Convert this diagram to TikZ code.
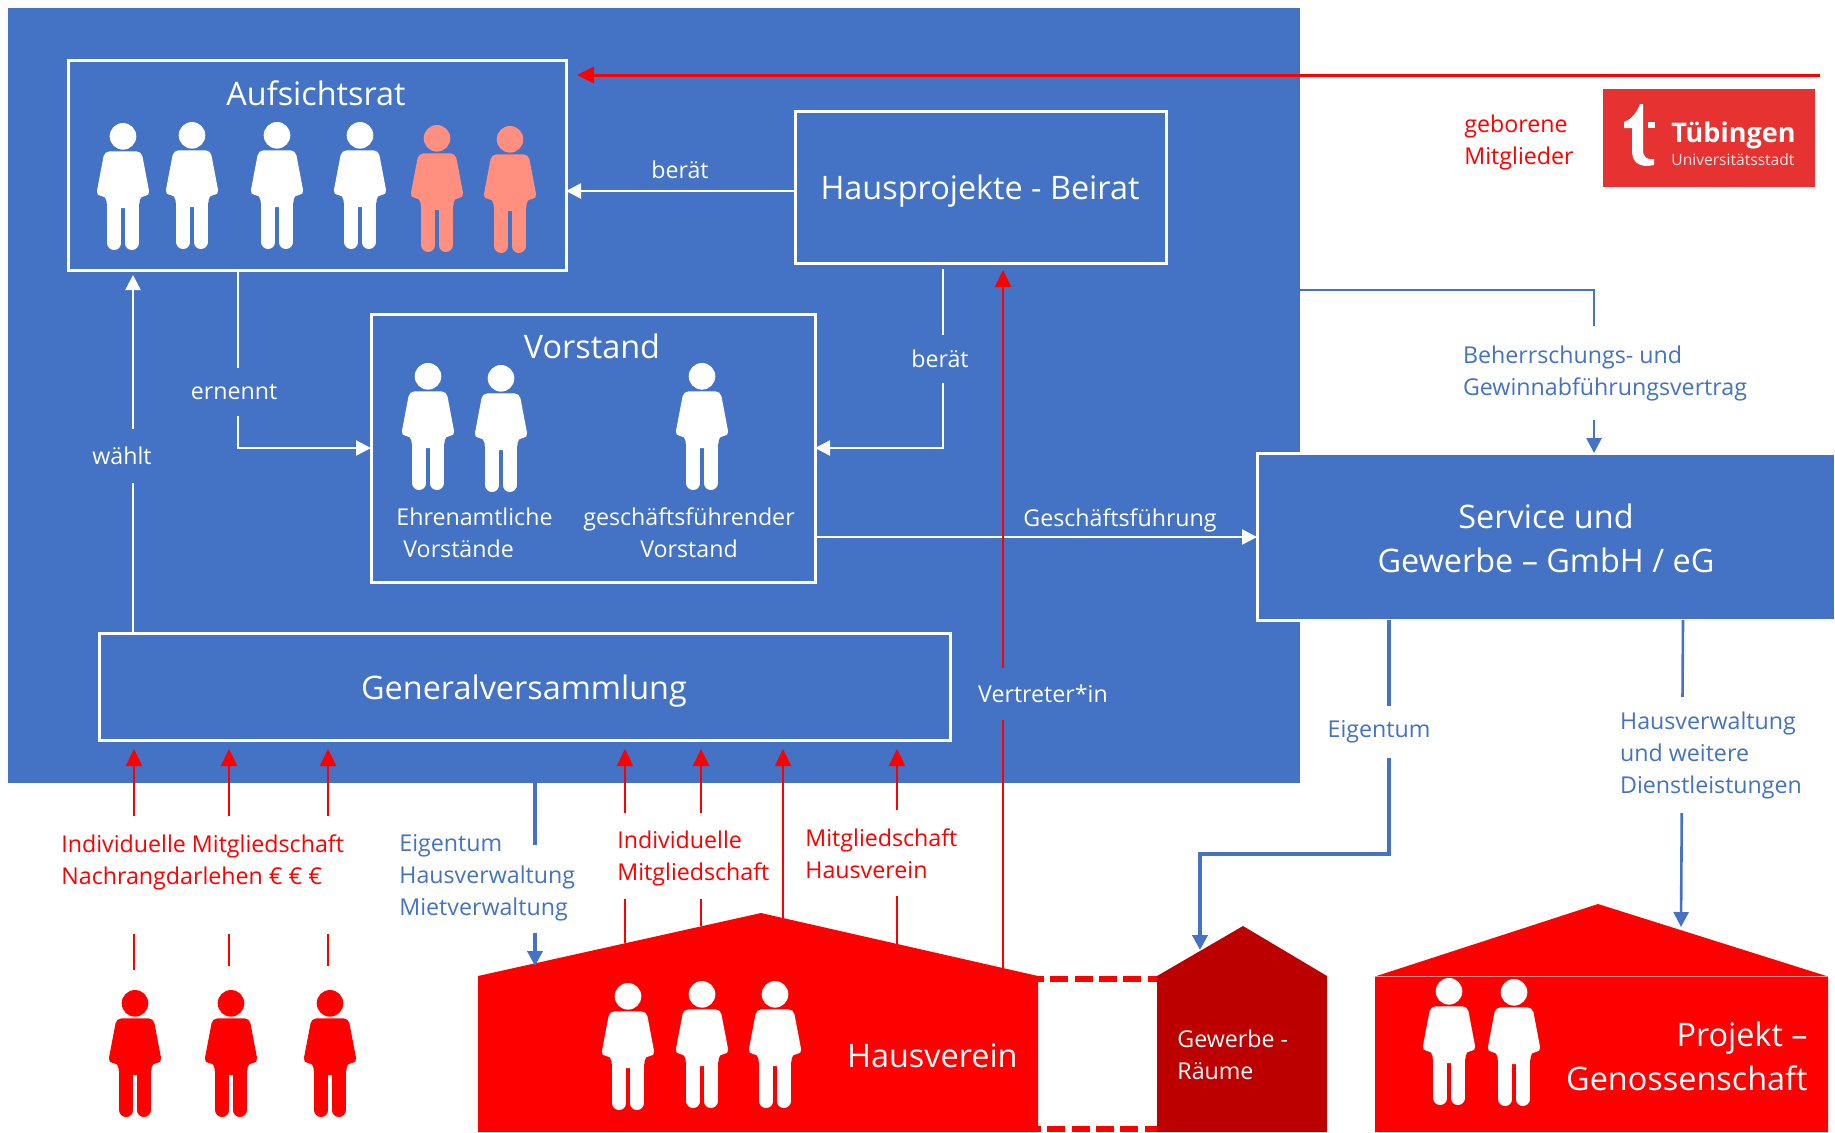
\documentclass[tikz,border=0pt]{standalone}
\usepackage{fontspec}
\setmainfont{Open Sans}
\usetikzlibrary{arrows.meta}
\definecolor{hausblau}{HTML}{4472C4}
\definecolor{hausrot}{HTML}{FF0000}
\definecolor{gewerberot}{HTML}{BC0000}
\definecolor{lachs}{HTML}{FF8F7F}
\definecolor{logorot}{HTML}{E63331}
\tikzset{
  box/.style={draw=white, line width=1.5pt, fill=hausblau, outer sep=0pt, inner sep=0pt},
  titel/.style={text=white, font=\fontsize{16.2}{22}\selectfont, align=center, inner sep=0pt},
  klein/.style={font=\fontsize{11.6}{16}\selectfont, align=left, inner sep=0pt},
  weisspfeil/.style={draw=white, line width=1.2pt, -{Triangle[width=7.5pt,length=7.5pt]}},
  rotlinie/.style={draw=hausrot, line width=1.25pt},
  rotpfeil/.style={rotlinie, -{Triangle[width=8pt,length=8.5pt]}},
  blaudick/.style={draw=hausblau, line width=2pt},
  blaupfeil/.style={draw=hausblau, line width=1.3pt, -{Triangle[width=7.5pt,length=7.5pt]}},
  strichel/.style={hausrot, line width=3pt, dash pattern=on 9pt off 3.15pt},
  pics/person/.style={code={
    \fill (0,13.3) circle[radius=13.3];
    \fill[rounded corners=2.5pt] (0,28.3) -- (18.5,28.3) -- (27,73) -- (16.5,73) -- (16.5,85)
      -- (-16.5,85) -- (-16.5,73) -- (-27,73) -- (-18.5,28.3) -- cycle;
    \draw[line width=7pt, line cap=round] (-8.7,78) -- (-8.7,120);
    \draw[line width=7pt, line cap=round] (8.7,78) -- (8.7,120);
  }}
}
\begin{document}
\begin{tikzpicture}[x=0.5pt, y=-0.5pt]
    \useasboundingbox (0,0) rectangle (1835,1132);

    % Grosse Flaeche und Kaesten
    \node[fill=hausblau, minimum width=646pt, minimum height=387.5pt, inner sep=0pt] (haupt) at (654,395.5) {};
    \node[box, minimum width=249pt, minimum height=105pt] (aufsichtsrat) at (317,165) {};
    \node[box, minimum width=185.5pt, minimum height=76pt] (beirat) at (980.5,187) {};
    \node[box, minimum width=222pt, minimum height=134pt] (vorstand) at (593,448) {};
    \node[box, minimum width=425.5pt, minimum height=53.5pt] (gv) at (524.5,686.5) {};
    \node[box, minimum width=289pt, minimum height=83.5pt] (service) at (1546,536.5) {};

    % Titel
    \node[titel] (tAufsichtsrat) at (316,93) {Aufsichtsrat};
    \node[titel] (tBeirat) at (980,191.5) {Hausprojekte - Beirat};
    \node[titel] (tVorstand) at (592,346) {Vorstand};
    \node[titel] (tGv) at (524,691.5) {Generalversammlung};
    \node[titel] (tService) at (1546,538) {Service und\\Gewerbe – GmbH / eG};
    \node[klein, text=white, anchor=west] (tEhrenamt) at (396,533) {Ehrenamtliche\\\hspace*{3.5pt}Vorstände};
    \node[klein, text=white, align=center] (tGf) at (689,533) {geschäftsführender\\Vorstand};

    % Personen
    \foreach \px/\py in {123/123, 192/122, 277/122, 360/122, 428/363, 501/365, 702/363}
      \pic[color=white] at (\px,\py) {person};
    \pic[color=lachs] at (437,125) {person};
    \pic[color=lachs] at (510,126) {person};

    % Haeuser
    \fill[hausrot] (478,976) -- (761,913) -- (1038,976) -- (1038,1132) -- (478,1132) -- cycle;
    \fill[gewerberot] (1157,976) -- (1243,926) -- (1327,976) -- (1327,1132) -- (1157,1132) -- cycle;
    \fill[hausrot] (1375,976.5) -- (1598,904) -- (1828,976.5) -- (1828,1132) -- (1375,1132) -- cycle;
    \draw[white!55!hausrot, line width=0.35pt] (1375,976.5) -- (1828,976.5);
    \draw[strichel, dash phase=6pt] (1038,979) -- (1157,979);
    \draw[strichel, dash phase=7.5pt] (1038,1129) -- (1157,1129);
    \foreach \px/\py in {628/983, 702/981, 775/981, 1449/978, 1514/979}
      \pic[color=white] at (\px,\py) {person};
    \foreach \px in {135, 231, 330}
      \pic[color=hausrot] at (\px,990) {person};
    \node[titel, anchor=east] (tHausverein) at (1018,1056) {Hausverein};
    \node[klein, text=white, anchor=west] (tGewerbe) at (1177,1055) {Gewerbe -\\Räume};
    \node[titel, anchor=east, align=right] (tProjekt) at (1808,1056) {Projekt –\\Genossenschaft};

    % Logo
    \node[fill=logorot, minimum width=106pt, minimum height=49pt, inner sep=0pt] (logo) at (1709,138) {};
    \fill[white] (1624,122) .. controls (1632,119) and (1637,112) .. (1640,104) -- (1643,104) -- (1643,150)
      .. controls (1643,158) and (1648,160) .. (1654,159) -- (1654,165) -- (1648,166)
      .. controls (1636,166) and (1632,160) .. (1632,150) -- (1632,128) -- (1624,128) -- cycle;
    \fill[white] (1648,122) rectangle (1655,128);
    \node[text=white, font=\fontsize{13.5}{14}\selectfont\bfseries, anchor=west, inner sep=0pt] (tTuebingen) at (1671,135) {Tübingen};
    \node[text=white!88!logorot, font=\fontsize{7.8}{9}\selectfont, anchor=west, inner sep=0pt] (tStadt) at (1671,160) {Universitätsstadt};
    \node[klein, text=hausrot, anchor=west] (tGeboren) at (1464,142) {geborene\\Mitglieder};

    % Weisse Verbindungen
    \coordinate (beratLinks) at (795,191);
    \coordinate (ernenntOben) at (238,270);
    \coordinate (waehltUnten) at (133,633);
    \coordinate (beratRechts) at (943,263);
    \coordinate (gfStart) at (815,537);
    \draw[weisspfeil] (beratLinks) -- (beratLinks -| aufsichtsrat.east);
    \draw[weisspfeil] (ernenntOben) |- (vorstand.west);
    \draw[weisspfeil, shorten >=2.5pt] (waehltUnten) -- (waehltUnten |- aufsichtsrat.south);
    \draw[weisspfeil, shorten <=3pt, shorten >=0pt] (beratRechts) |- (vorstand.east);
    \draw[weisspfeil] (gfStart) -- (gfStart -| service.west);
    \node[klein, text=white] (lBeratLinks) at (680,170) {berät};
    \node[klein, text=white, fill=hausblau, minimum height=24pt, inner sep=0pt] (lErnennt) at (234,392) {ernennt};
    \node[klein, text=white, fill=hausblau, minimum height=27pt, inner sep=0pt] (lWaehlt) at (122,456) {wählt};
    \node[klein, text=white, fill=hausblau, minimum height=24pt, inner sep=1pt] (lBeratRechts) at (940,359) {berät};
    \node[klein, text=white] (lGf) at (1120,520) {Geschäftsführung};

    % Rote Verbindungen
    \coordinate (geboren) at (1820,75);
    \draw[rotpfeil, line width=1.5pt, shorten >=5.5pt] (geboren) -- (geboren -| aufsichtsrat.east);
    \foreach \nm/\rx/\rfuss/\rlow/\rhigh in {mitA/134/970/934/816, mitB/229/966/934/816, mitC/328/966/934/816,
        mitD/625/943/899/813, mitE/701/926/899/813, mitG/897/944/896/810} {
      \coordinate (\nm-fuss) at (\rx,\rfuss);
      \coordinate (\nm-low) at (\rx,\rlow);
      \coordinate (\nm-high) at (\rx,\rhigh);
      \draw[rotlinie] (\nm-fuss) -- (\nm-low);
      \draw[rotpfeil, shorten >=4.5pt] (\nm-high) -- (\nm-high |- gv.south);
    }
    \coordinate (mitF) at (783,918);
    \coordinate (vertreter) at (1003,968);
    \draw[rotpfeil, shorten >=4.5pt] (mitF) -- (mitF |- gv.south);
    \draw[rotpfeil, shorten >=3.5pt] (vertreter) -- (vertreter |- beirat.south);
    \node[klein, text=white, fill=hausblau, minimum height=26pt, inner sep=0pt] (lVertreter) at (1043,694) {Vertreter*in};
    \node[klein, text=hausrot, anchor=west] (lIndividuell) at (61,862) {Individuelle Mitgliedschaft\\Nachrangdarlehen € € €};
    \node[klein, text=hausrot, anchor=west] (lMitgliedschaft) at (617,858) {Individuelle\\Mitgliedschaft};
    \node[klein, text=hausrot, anchor=west] (lHausverein) at (805,853.5) {Mitgliedschaft\\Hausverein};

    % Blaue Verbindungen
    \coordinate (eigenStart) at (535,783);
    \coordinate (eigenLow) at (535,845);
    \coordinate (eigenHigh) at (535,933);
    \coordinate (eigenDach) at (535,966);
    \draw[blaudick] (eigenStart) -- (eigenLow);
    \draw[blaudick, -{Triangle[width=7.5pt,length=7.5pt]}] (eigenHigh) -- (eigenDach);
    \node[klein, text=hausblau, anchor=west] (lEigen) at (399,878) {Eigentum\\Hausverwaltung\\Mietverwaltung};
    \coordinate (vertragStart) at (1300,290);
    \coordinate (vertragEnde) at (1594,453);
    \draw[blaupfeil] (vertragStart) -| (vertragEnde);
    \node[klein, text=hausblau, fill=white, minimum height=47pt, inner sep=0pt] (lVertrag) at (1605,373) {Beherrschungs- und\\Gewinnabführungsvertrag};
    \coordinate (gewerbeStart) at (1389,620);
    \coordinate (gewerbeKnick) at (1200,854);
    \coordinate (gewerbeDach) at (1200,950);
    \draw[blaudick, -{Triangle[width=7.5pt,length=7.5pt]}] (gewerbeStart) |- (gewerbeKnick) -- (gewerbeDach);
    \node[klein, text=hausblau, fill=white, minimum height=26pt, inner sep=1pt] (lEigentum) at (1379,732) {Eigentum};
    \coordinate (projektStart) at (1683,620);
    \coordinate (projektDach) at (1681,927);
    \draw[blaupfeil] (projektStart) -- (projektDach);
    \node[klein, text=hausblau, fill=white, minimum height=58pt, inner sep=1pt] (lProjekt) at (1711,755) {Hausverwaltung\\und weitere\\Dienstleistungen};
\end{tikzpicture}
\end{document}
